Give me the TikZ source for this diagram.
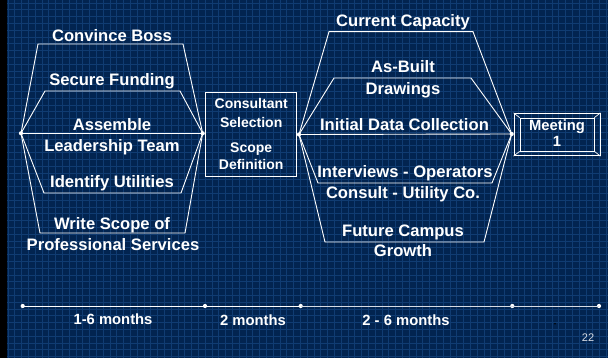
\documentclass[tikz,border=0pt]{standalone}
\usepackage{fontspec}
\setmainfont{Liberation Sans}
\begin{document}
\begin{tikzpicture}[x=1pt,y=-1pt,
  conn/.style={draw=white, line width=0.9pt},
  dotnode/.style={circle, fill=white, inner sep=0pt, minimum size=4.2pt},
  lbl/.style={text=white, font=\fontsize{16.6}{18}\selectfont\bfseries, inner sep=0pt, anchor=base},
  smlbl/.style={text=white, font=\fontsize{14}{16}\selectfont\bfseries, inner sep=0pt, anchor=base},
  tlbl/.style={text=white, font=\fontsize{14.8}{16}\selectfont\bfseries, inner sep=0pt, anchor=base},
  gridline/.style={draw={rgb,255:red,16;green,60;blue,114}, line width=0.85pt}
]
\definecolor{bgblue}{RGB}{2,36,80}
\useasboundingbox (0,0) rectangle (608,358);
\fill[bgblue] (0,0) rectangle (608,358);
\foreach \i in {0,...,88} \draw[gridline] ({8+\i*6.8},0) -- ({8+\i*6.8},358);
\foreach \j in {0,...,52} \draw[gridline] (7,{3+\j*6.8}) -- (608,{3+\j*6.8});
\fill[black] (0,0) rectangle (7,358);

% left group
\node[dotnode] (L1) at (21,133.3) {};
\node[dotnode] (R1) at (202.7,133.3) {};
\draw[conn] (L1.center) -- (38,44) -- (183,44) -- (R1.center);
\draw[conn] (L1.center) -- (45,91) -- (180,91) -- (R1.center);
\draw[conn] (L1.center) -- (R1.center);
\draw[conn] (L1.center) -- (44,193) -- (181,193) -- (R1.center);
\draw[conn] (L1.center) -- (40,233) -- (185,233) -- (R1.center);
\node[lbl] (t1) at (112,41.5) {Convince Boss};
\node[lbl] (t2) at (112,85.5) {Secure Funding};
\node[lbl] (t3) at (112,130.5) {Assemble};
\node[lbl] (t4) at (112,151.3) {Leadership Team};
\node[lbl] (t5) at (112,188) {Identify Utilities};
\node[lbl] (t6) at (112,229.8) {Write Scope of};
\node[lbl] (t7) at (113,251) {Professional Services};

% consultant box
\node[draw=white, line width=0.9pt, minimum width=91pt, minimum height=83.3pt, inner sep=0pt] (B) at (251.2,134.35) {};
\node[smlbl] (c1) at (251.2,108.7) {Consultant};
\node[smlbl] (c2) at (251.2,127.5) {Selection};
\node[smlbl] (c3) at (251.2,152.7) {Scope};
\node[smlbl] (c4) at (251.2,169.5) {Definition};

% right group
\node[dotnode] (L2) at (299,134.5) {};
\node[dotnode] (R2) at (511.7,134) {};
\draw[conn] (L2.center) -- (329,31.7) -- (473,31.7) -- (R2.center);
\draw[conn] (L2.center) -- (334,78) -- (471,78) -- (R2.center);
\draw[conn] (L2.center) -- (R2.center);
\draw[conn] (L2.center) -- (318,183) -- (492,183) -- (R2.center);
\draw[conn] (L2.center) -- (325,242) -- (484,242) -- (R2.center);
\node[lbl] (r1) at (403,26.5) {Current Capacity};
\node[lbl] (r2) at (403,73) {As-Built};
\node[lbl] (r3) at (403,94.8) {Drawings};
\node[lbl] (r4) at (404.5,131) {Initial Data Collection};
\node[lbl] (r5) at (405,178) {Interviews - Operators};
\node[lbl] (r6) at (403,199) {Consult - Utility Co.};
\node[lbl] (r7) at (403,236.5) {Future Campus};
\node[lbl] (r8) at (403,257) {Growth};

% meeting box
\node[draw=white, line width=0.9pt, minimum width=86pt, minimum height=42.4pt, inner sep=0pt] (M) at (557,134.5) {};
\node[draw=white, line width=0.7pt, minimum width=74pt, minimum height=33pt, inner sep=0pt] (Mi) at (557,134.5) {};
\draw[white, line width=0.7pt] (M.north west) -- (Mi.north west) (M.north east) -- (Mi.north east)
  (M.south west) -- (Mi.south west) (M.south east) -- (Mi.south east);
\node[tlbl] (m1) at (557,131) {Meeting};
\node[tlbl] (m2) at (557,147) {1};

% timeline
\node[dotnode] (T1) at (22.7,306) {};
\node[dotnode] (T2) at (205,306) {};
\node[dotnode] (T3) at (300.7,306) {};
\node[dotnode] (T4) at (512.3,306) {};
\node[dotnode] (T5) at (599,306) {};
\draw[conn] (T1.center) -- (T2.center);
\draw[conn] (T2.center) -- (T3.center);
\draw[draw={rgb,255:red,215;green,220;blue,228}, line width=1pt] (T3.center) -- (T4.center);
\draw[draw={rgb,255:red,215;green,220;blue,228}, line width=1pt] (T4.center) -- (T5.center);
\node[tlbl] (d1) at (113,324.5) {1-6 months};
\node[tlbl] (d2) at (253,325.5) {2 months};
\node[tlbl] (d3) at (406,325.5) {2 - 6 months};
\node[text={rgb,255:red,215;green,220;blue,228}, font=\fontsize{11}{12}\selectfont, inner sep=0pt, anchor=base] (pg) at (588,341.7) {22};
\fill[black] (555,323.7) circle (0.9);
\end{tikzpicture}
\end{document}
